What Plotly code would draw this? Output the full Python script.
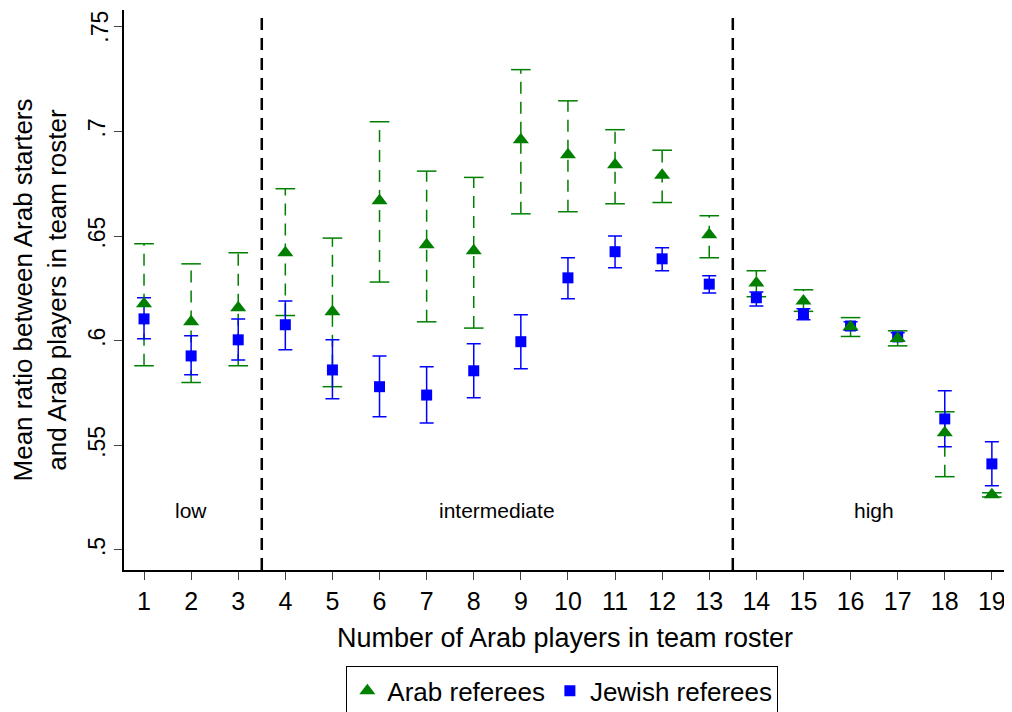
import plotly.graph_objects as go

players = list(range(1, 20))

arab_mean = [0.6176, 0.609, 0.6157, 0.642, 0.6138, 0.6668, 0.6458, 0.643, 0.696, 0.6888,
             0.684, 0.679, 0.6506, 0.6276, 0.619, 0.6066, 0.601, 0.556, 0.5263]
arab_hi = [0.6463, 0.6367, 0.642, 0.6726, 0.649, 0.7046, 0.681, 0.678, 0.7295, 0.7146,
           0.7008, 0.691, 0.6597, 0.6334, 0.6243, 0.611, 0.6047, 0.566, 0.5273]
arab_lo = [0.588, 0.580, 0.588, 0.612, 0.578, 0.628, 0.609, 0.606, 0.6606, 0.6616,
           0.6654, 0.666, 0.6396, 0.621, 0.614, 0.602, 0.5975, 0.535, 0.5253]

jew_mean = [0.6104, 0.5927, 0.6004, 0.6076, 0.586, 0.578, 0.574, 0.5856, 0.5995, 0.630,
            0.6425, 0.6391, 0.627, 0.6205, 0.6128, 0.607, 0.6018, 0.5626, 0.5411]
jew_hi = [0.6205, 0.6023, 0.6104, 0.619, 0.6004, 0.5927, 0.5875, 0.5985, 0.6124, 0.6396,
          0.650, 0.6444, 0.631, 0.6233, 0.6152, 0.609, 0.6038, 0.576, 0.5517]
jew_lo = [0.6009, 0.5837, 0.5908, 0.5956, 0.5722, 0.5636, 0.5607, 0.5727, 0.5866, 0.620,
          0.6348, 0.6334, 0.6228, 0.6166, 0.610, 0.605, 0.5998, 0.5493, 0.5306]

y_ticks = [0.5, 0.55, 0.6, 0.65, 0.7, 0.75]
y_labels = [".5", ".55", ".6", ".65", ".7", ".75"]

groups = ["low", "intermediate", "high"]
group_x = [2, 8.5, 16.5]
cutoffs = [3.5, 13.5]

GREEN = "#007f00"
BLUE = "#0000ff"

fig = go.Figure()

# dashed whiskers for arab referees
wx, wy = [], []
for x, lo, hi in zip(players, arab_lo, arab_hi):
    wx += [x, x, None]
    wy += [lo, hi, None]
fig.add_trace(go.Scatter(x=wx, y=wy, mode="lines", line=dict(color=GREEN, width=1.5, dash="12px,8px"),
                         showlegend=False, hoverinfo="skip"))
fig.add_trace(go.Scatter(x=players + players, y=arab_hi + arab_lo, mode="markers",
                         marker=dict(symbol="line-ew-open", size=14, color=GREEN,
                                     line=dict(color=GREEN, width=1.5)),
                         showlegend=False, hoverinfo="skip"))

fig.add_trace(go.Scatter(
    x=players, y=jew_mean, mode="markers", name="Jewish referees",
    marker=dict(symbol="square", size=11, color=BLUE),
    error_y=dict(type="data", symmetric=False,
                 array=[h - m for h, m in zip(jew_hi, jew_mean)],
                 arrayminus=[m - l for m, l in zip(jew_mean, jew_lo)],
                 color=BLUE, thickness=1.5, width=7)))

fig.add_trace(go.Scatter(
    x=players, y=arab_mean, mode="markers", name="Arab referees",
    marker=dict(symbol="triangle-up", size=14, color=GREEN)))

for c in cutoffs:
    fig.add_shape(type="line", x0=c, x1=c, y0=0, y1=1, yref="paper",
                  line=dict(color="black", width=2.5, dash="12px,8px"))

for g, gx in zip(groups, group_x):
    fig.add_annotation(x=gx, y=0.519, text=g, showarrow=False, font=dict(size=21, color="black"))

# top tick label is dropped by plotly near the edge, draw it by hand
fig.add_annotation(x=0, xref="paper", y=y_ticks[-1], yref="y", text=y_labels[-1], textangle=-90,
                   showarrow=False, xanchor="right", xshift=-9, font=dict(size=23, color="black"))

fig.update_layout(
    width=1012, height=712,
    margin=dict(l=116, r=14, t=2, b=150),
    plot_bgcolor="white", paper_bgcolor="white",
    font=dict(family="Liberation Sans, Arial", color="black"),
    legend=dict(orientation="h", x=0.497, xanchor="center", y=-0.216, yanchor="middle",
                bordercolor="black", borderwidth=1, font=dict(size=26),
                traceorder="reversed"),
)
fig.update_xaxes(range=[0.575, 19.3], tickvals=players, showgrid=False, zeroline=False,
                 showline=True, linecolor="black", linewidth=1.5, ticks="outside", ticklen=8,
                 tickfont=dict(size=25), automargin=False,
                 title=dict(text="Number of Arab players in team roster",
                            font=dict(size=27), standoff=14))
fig.update_yaxes(range=[0.4904, 0.758], tickvals=y_ticks, ticktext=y_labels, tickangle=-90,
                 showgrid=False, zeroline=False, showline=True, linecolor="black", linewidth=1.5,
                 ticks="outside", ticklen=8, tickfont=dict(size=23), automargin=False,
                 title=dict(text="Mean ratio between Arab starters<br>and Arab players in team roster",
                            font=dict(size=26), standoff=10))

fig.write_html("out.html")
